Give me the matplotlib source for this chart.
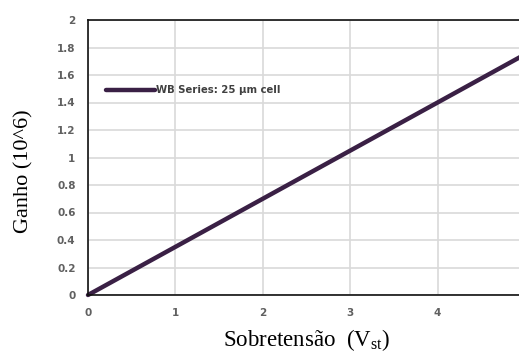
import matplotlib.pyplot as plt
import numpy as np

# overvoltage (V) vs gain (10^6)
overvoltage = [0, 1, 2, 3, 4, 5]
gain = [0, 0.35, 0.70, 1.05, 1.40, 1.75]
xticks = [0, 1, 2, 3, 4, 5]
xtick_labels = ["0", "1", "2", "3", "4", ""]
yticks = [0, 0.2, 0.4, 0.6, 0.8, 1, 1.2, 1.4, 1.6, 1.8, 2]
ytick_labels = ["0", "0.2", "0.4", "0.6", "0.8", "1", "1.2", "1.4", "1.6", "1.8", "2"]

fig = plt.figure(figsize=(5.19, 3.52), dpi=100)
ax = fig.add_axes([88 / 519, 57 / 352, 437 / 519, 275 / 352])

ax.plot(overvoltage, gain, color="#3a2045", lw=3.2, solid_capstyle="round",
        label="WB Series: 25 μm cell", clip_on=False)

ax.set_xlim(0, 5)
ax.set_ylim(0, 2)
ax.set_xticks(xticks)
ax.set_xticklabels(xtick_labels)
ax.set_yticks(yticks)
ax.set_yticklabels(ytick_labels)
ax.tick_params(length=0, labelsize=7.5, labelcolor="#606060", pad=9)
for lab in ax.get_xticklabels() + ax.get_yticklabels():
    lab.set_fontweight("bold")

ax.grid(True, color="#d9d9d9", lw=1.2)
ax.set_axisbelow(True)
for s in ["left", "bottom", "top"]:
    ax.spines[s].set_color("#111111")
    ax.spines[s].set_linewidth(1.2)
ax.spines["right"].set_visible(False)

ax.set_ylabel("Ganho (10^6)", family="Liberation Serif", fontsize=16)
ax.yaxis.set_label_coords(-0.124, 0.45)
ax.set_xlabel(r"Sobretensão  (V$_{\mathregular{st}}$)", family="Liberation Serif",
              fontsize=16.5, labelpad=7)

leg = ax.legend(loc="center left", bbox_to_anchor=(0.02, 0.745), frameon=False,
                handlelength=4.8, handletextpad=0.1,
                prop={"size": 7.3, "weight": "bold"})
for t in leg.get_texts():
    t.set_color("#404040")

plt.savefig("out.png", dpi=100)
